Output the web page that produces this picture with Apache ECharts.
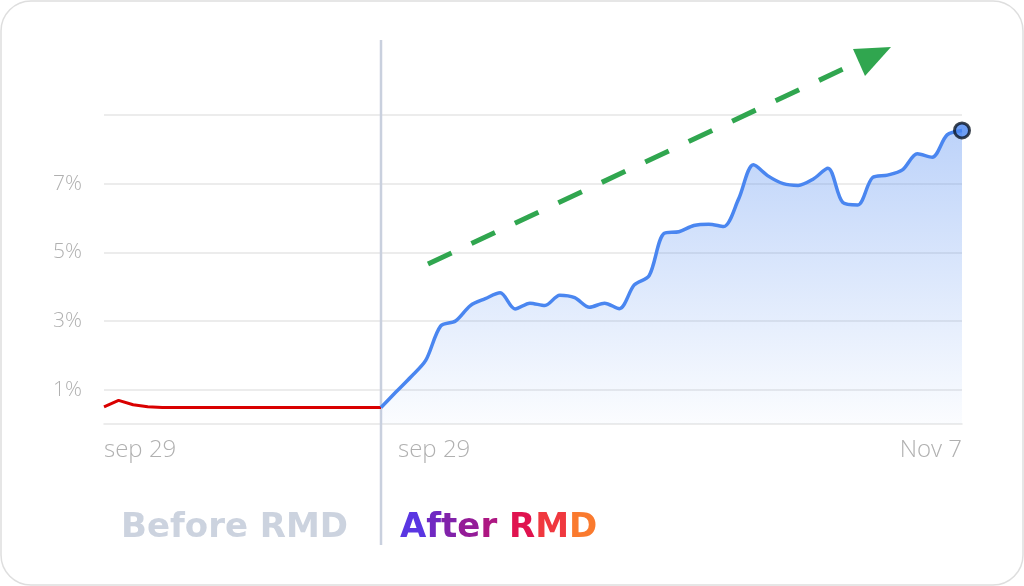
<!DOCTYPE html>
<html>
<head>
<meta charset="utf-8">
<script src="https://cdn.jsdelivr.net/npm/echarts@6/dist/echarts.min.js"></script>
<style>
  html, body { margin: 0; padding: 0; background: #fff; }
  #chart { width: 1024px; height: 586px; }
</style>
</head>
<body>
<div id="chart"></div>
<script>
// before period (flat, red)
const beforeDays = ['sep 29', 'sep 30', 'oct 1', 'oct 2', 'oct 3', 'oct 4', 'oct 5', 'oct 6', 'oct 7', 'oct 8',
  'oct 9', 'oct 10', 'oct 11', 'oct 12', 'oct 13', 'oct 14', 'oct 15', 'oct 16', 'oct 17', 'oct 18'];
const beforeVals = [0.5, 0.69, 0.56, 0.5, 0.48, 0.48, 0.48, 0.48, 0.48, 0.48,
  0.48, 0.48, 0.48, 0.48, 0.48, 0.48, 0.48, 0.48, 0.48, 0.48];

// after period (blue, Sep 29 -> Nov 7)
const afterDays = ['sep 29', 'Sep 30', 'Oct 1', 'Oct 2', 'Oct 3', 'Oct 4', 'Oct 5', 'Oct 6', 'Oct 7', 'Oct 8',
  'Oct 9', 'Oct 10', 'Oct 11', 'Oct 12', 'Oct 13', 'Oct 14', 'Oct 15', 'Oct 16', 'Oct 17', 'Oct 18',
  'Oct 19', 'Oct 20', 'Oct 21', 'Oct 22', 'Oct 23', 'Oct 24', 'Oct 25', 'Oct 26', 'Oct 27', 'Oct 28',
  'Oct 29', 'Oct 30', 'Oct 31', 'Nov 1', 'Nov 2', 'Nov 3', 'Nov 4', 'Nov 5', 'Nov 6', 'Nov 7'];
const afterVals = [0.48, 0.93, 1.37, 1.85, 2.85, 3.0, 3.45, 3.65, 3.82, 3.35,
  3.52, 3.45, 3.75, 3.68, 3.4, 3.52, 3.36, 4.05, 4.32, 5.55,
  5.6, 5.78, 5.82, 5.75, 6.55, 7.55, 7.22, 7.0, 6.95, 7.13,
  7.45, 6.45, 6.38, 7.18, 7.25, 7.4, 7.87, 7.77, 8.42, 8.55];

// y ticks shown as labels
const yLabels = [1, 3, 5, 7];

// "After RMD" letter colours (gradient look)
const afterText = ['A', 'f', 't', 'e', 'r', ' ', 'R', 'M', 'D'];
const afterColors = ['#5a36e2', '#7028c2', '#8122aa', '#941c98', '#ad1782', '#c0156e', '#e0134f', '#f0383f', '#fa7a2e'];

const labelFont = '"Open Sans", sans-serif';
const titleFont = '700 34px "DejaVu Sans", sans-serif';
const grey = '#b0b0b0';
const gridColor = '#e6e6e6';

const chart = echarts.init(document.getElementById('chart'));

const yAxisBase = (gridIndex, showLabel) => ({
  type: 'value',
  gridIndex,
  min: 0,
  max: 9,
  interval: 1,
  axisLine: { show: false },
  axisTick: { show: false },
  axisLabel: {
    show: showLabel,
    align: 'left',
    margin: 51,
    color: grey,
    fontSize: 21,
    fontWeight: 300,
    fontFamily: labelFont,
    formatter: v => (yLabels.indexOf(v) >= 0 ? v + '%' : ''),
  },
  // only odd values get a visible line
  splitLine: { lineStyle: { color: ['rgba(0,0,0,0)', gridColor], width: 1.5 } },
});

const lastIdx = afterDays.length - 1;

const afterRich = {};
afterText.forEach((ch, i) => {
  afterRich['c' + i] = { fill: afterColors[i], font: titleFont };
});

chart.setOption({
  animation: false,
  grid: [
    { left: 104, width: 277, top: 115, bottom: 162 },
    { left: 381, right: 62, top: 115, bottom: 162 },
  ],
  xAxis: [
    {
      type: 'category',
      gridIndex: 0,
      data: beforeDays,
      boundaryGap: false,
      axisLine: { lineStyle: { color: gridColor, width: 1.5 } },
      axisTick: { show: false },
      axisLabel: {
        interval: i => i === 0,
        alignMinLabel: 'left',
        margin: 14,
        color: grey,
        fontSize: 24,
        fontWeight: 300,
        fontFamily: labelFont,
      },
    },
    {
      type: 'category',
      gridIndex: 1,
      data: afterDays,
      boundaryGap: false,
      axisLine: { lineStyle: { color: gridColor, width: 1.5 } },
      axisTick: { show: false },
      axisLabel: {
        interval: i => i === 0 || i === lastIdx,
        alignMinLabel: 'left',
        alignMaxLabel: 'right',
        margin: 14,
        color: grey,
        fontSize: 24,
        fontWeight: 300,
        fontFamily: labelFont,
        formatter: (v, i) => (i === 0 ? '{first|' + v + '}' : v),
        rich: {
          first: { padding: [0, 0, 0, 17], color: grey, fontSize: 24, fontWeight: 300, fontFamily: labelFont },
        },
      },
    },
  ],
  yAxis: [yAxisBase(0, true), yAxisBase(1, false)],
  series: [
    {
      type: 'line',
      xAxisIndex: 0,
      yAxisIndex: 0,
      data: beforeVals,
      symbol: 'none',
      lineStyle: { color: '#d90000', width: 3 },
      z: 3,
    },
    {
      type: 'line',
      xAxisIndex: 1,
      yAxisIndex: 1,
      data: afterVals,
      symbol: 'none',
      smooth: 0.3,
      lineStyle: { color: '#4a86f0', width: 3.5 },
      areaStyle: {
        color: new echarts.graphic.LinearGradient(0, 0, 0, 1, [
          { offset: 0, color: 'rgba(74,134,240,0.52)' },
          { offset: 1, color: 'rgba(74,134,240,0.03)' },
        ]),
      },
      z: 3,
    },
    {
      type: 'scatter',
      xAxisIndex: 1,
      yAxisIndex: 1,
      data: [[lastIdx, afterVals[lastIdx]]],
      symbolSize: 15,
      itemStyle: { color: '#4a86f0', borderColor: '#0b1524', borderWidth: 3 },
      z: 5,
    },
  ],
  graphic: [
    {
      type: 'rect',
      z: -10,
      shape: { x: 1, y: 1, width: 1022, height: 584, r: 30 },
      style: { fill: '#fff', stroke: '#dedede', lineWidth: 1.5 },
    },
    {
      type: 'line',
      z: 1,
      shape: { x1: 381, y1: 40, x2: 381, y2: 545 },
      style: { stroke: '#c9d0de', lineWidth: 2.5 },
    },
    {
      type: 'line',
      z: 10,
      shape: { x1: 428, y1: 264, x2: 856, y2: 63 },
      style: { stroke: '#30a64f', lineWidth: 5, lineDash: [26, 22] },
    },
    {
      type: 'polygon',
      z: 10,
      shape: { points: [[853, 49], [891, 47], [865, 76]] },
      style: { fill: '#30a64f' },
    },
    {
      type: 'text',
      z: 10,
      left: 121,
      top: 511,
      style: {
        text: 'Before RMD',
        font: titleFont,
        fill: '#ccd3df',
      },
    },
    {
      type: 'text',
      z: 10,
      left: 400,
      top: 511,
      style: {
        text: afterText.map((ch, i) => '{c' + i + '|' + ch + '}').join(''),
        font: titleFont,
        rich: afterRich,
      },
    },
  ],
});
</script>
</body>
</html>
